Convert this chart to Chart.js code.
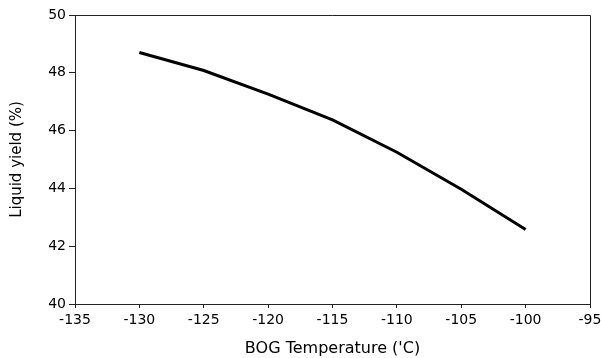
<!DOCTYPE html>
<html>
<head>
<meta charset="utf-8">
<script src="https://cdn.jsdelivr.net/npm/chart.js@4"></script>
<style>
  html, body { margin: 0; padding: 0; background: #fff; }
  #wrap { width: 601px; height: 358px; }
</style>
</head>
<body>
<div id="wrap"><canvas id="myChart" width="601" height="358"></canvas></div>
<script>
const temps = [-130, -125, -120, -115, -110, -105, -100];
const yields = [48.70, 48.08, 47.26, 46.37, 45.25, 43.97, 42.58];

// draw top and right edges of the frame
const frame = {
    id: 'frame',
    afterDraw(chart) {
        const a = chart.chartArea;
        const c = chart.ctx;
        c.save();
        c.strokeStyle = '#222';
        c.lineWidth = 1;
        c.beginPath();
        c.moveTo(a.left, a.top + 0.5);
        c.lineTo(a.right + 0.5, a.top + 0.5);
        c.lineTo(a.right + 0.5, a.bottom);
        c.stroke();
        c.restore();
    }
};

const ctx = document.getElementById('myChart').getContext('2d');
const myChart = new Chart(ctx, {
    type: 'line',
    data: {
        datasets: [{
            data: temps.map((t, i) => ({x: t, y: yields[i]})),
            borderColor: '#000',
            borderWidth: 3,
            pointRadius: 0,
            tension: 0,
            fill: false
        }]
    },
    options: {
        responsive: false,
        animation: false,
        layout: { padding: { left: 4, top: 15, right: 11, bottom: 0 } },
        plugins: { legend: { display: false }, tooltip: { enabled: false } },
        scales: {
            x: {
                type: 'linear',
                min: -135,
                max: -95,
                afterFit(s) { s.height = 54; s.paddingLeft = 0; s.paddingRight = 0; },
                ticks: {
                    stepSize: 5,
                    color: '#000',
                    padding: 4,
                    maxRotation: 0,
                    font: { family: 'DejaVu Sans', size: 14 }
                },
                grid: { display: true, drawOnChartArea: false, drawTicks: true, tickLength: 4, tickColor: '#222' },
                border: { display: true, color: '#222', width: 1 },
                title: {
                    display: true,
                    text: "BOG Temperature ('C)",
                    color: '#000',
                    padding: { top: 2, bottom: 0 },
                    font: { family: 'DejaVu Sans', size: 16 }
                }
            },
            y: {
                min: 40,
                max: 50,
                afterFit(s) { s.width = 71; },
                ticks: {
                    stepSize: 2,
                    color: '#000',
                    padding: 3,
                    font: { family: 'DejaVu Sans', size: 14 }
                },
                grid: { display: true, drawOnChartArea: false, drawTicks: true, tickLength: 6, tickColor: '#222' },
                border: { display: true, color: '#222', width: 1 },
                title: {
                    display: true,
                    text: 'Liquid yield (%)',
                    color: '#000',
                    padding: { top: 4, bottom: 4 },
                    font: { family: 'DejaVu Sans', size: 15 }
                }
            }
        }
    },
    plugins: [frame]
});
</script>
</body>
</html>
